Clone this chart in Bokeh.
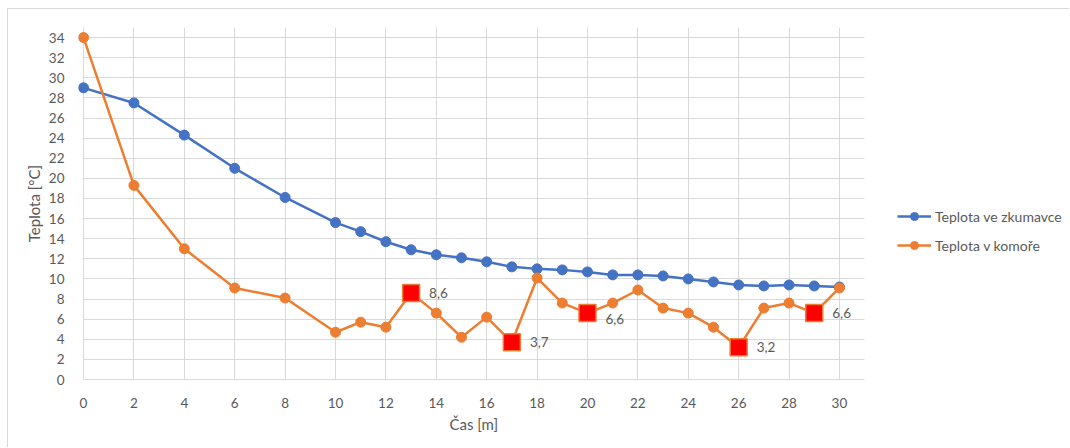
from bokeh.plotting import figure
from bokeh.models import ColumnDataSource, Legend, LegendItem, FixedTicker, Range1d, Title
from bokeh.core.properties import value
from bokeh.embed import file_html
from bokeh.resources import INLINE

# ---- data ----
cas = [0, 2, 4, 6, 8, 10, 11, 12, 13, 14, 15, 16, 17, 18, 19, 20, 21, 22, 23, 24, 25, 26, 27, 28, 29, 30]
zkumavka = [29.0, 27.5, 24.3, 21.0, 18.1, 15.6, 14.7, 13.7, 12.9, 12.4, 12.1, 11.7, 11.2, 11.0, 10.9, 10.7,
            10.4, 10.4, 10.3, 10.0, 9.7, 9.4, 9.3, 9.4, 9.3, 9.2]
komora = [34.0, 19.3, 13.0, 9.1, 8.1, 4.7, 5.7, 5.2, 8.6, 6.6, 4.2, 6.2, 3.7, 10.1, 7.6, 6.6,
          7.6, 8.9, 7.1, 6.6, 5.2, 3.2, 7.1, 7.6, 6.6, 9.1]
highlight_x = [13, 17, 20, 26, 29]
highlight_labels = ["8,6", "3,7", "6,6", "3,2", "6,6"]
x_ticks = list(range(0, 31, 2))
y_ticks = list(range(0, 35, 2))
series_names = ["Teplota ve zkumavce", "Teplota v komoře"]
x_title = "Čas [m]"
y_title = "Teplota [°C]"

BLUE = "#4472C4"
ORANGE = "#ED7D31"
GRID = "#D9D9D9"
TXT = "#595959"
FONT = "Lato"

X_AXIS_MAX = 31
Y_AXIS_MAX = 35

hl_y = [komora[cas.index(x)] for x in highlight_x]
hl_src = ColumnDataSource(dict(
    x=highlight_x, y=hl_y, label=highlight_labels,
    yoff=[0 if x != 20 else 6 for x in highlight_x],
))

# frame spans the whole width to the right so that the legend is not clipped;
# gridlines and the axis line are bounded to the real plot area 0..31
p = figure(width=1062, height=439, output_backend="svg", toolbar_location=None,
           x_range=Range1d(-0.2, 39.17), y_range=Range1d(0, Y_AXIS_MAX),
           min_border_left=70, min_border_right=0, min_border_top=18, min_border_bottom=69)
p.margin = (8, 0, 0, 7)
p.styles = {"border-top": "1px solid #D9D9D9", "border-left": "1px solid #D9D9D9"}
p.outline_line_color = None
p.background_fill_color = "white"
p.border_fill_color = "white"

for ax in (p.xaxis[0], p.yaxis[0]):
    ax.major_tick_line_color = None
    ax.minor_tick_line_color = None
    ax.major_label_text_font = FONT
    ax.major_label_text_font_size = "13.5px"
    ax.major_label_text_color = TXT
    ax.axis_label_text_font = FONT
    ax.axis_label_text_font_size = "15px"
    ax.axis_label_text_color = TXT
    ax.axis_label_text_font_style = "normal"

p.xaxis.ticker = FixedTicker(ticks=x_ticks)
p.yaxis.ticker = FixedTicker(ticks=y_ticks)
p.xaxis.bounds = (0, X_AXIS_MAX)
p.xaxis.axis_line_color = GRID
p.yaxis.axis_line_color = None
p.xaxis.major_label_standoff = 12
p.yaxis.major_label_standoff = 8
p.yaxis.axis_label = y_title
p.yaxis.axis_label_standoff = 3

# x-axis title centred under the 0..31 plot area (not under the wider frame)
xt = Title(text=x_title, align="left", offset=371, standoff=4,
           text_font=FONT, text_font_size="15px", text_color=TXT, text_font_style="normal")
p.add_layout(xt, "below")

p.xgrid.ticker = FixedTicker(ticks=x_ticks)
p.ygrid.ticker = FixedTicker(ticks=y_ticks)
p.xgrid.grid_line_color = GRID
p.ygrid.grid_line_color = GRID
p.ygrid.cross_bounds = (0, X_AXIS_MAX)
p.xgrid.cross_bounds = (0, Y_AXIS_MAX)

l1 = p.line(cas, zkumavka, line_color=BLUE, line_width=2.5)
c1 = p.scatter(cas, zkumavka, size=10, fill_color=BLUE, line_color=BLUE)
l2 = p.line(cas, komora, line_color=ORANGE, line_width=2.5)
c2 = p.scatter(cas, komora, size=10, fill_color=ORANGE, line_color=ORANGE)

# leader line for the label at x=20
lx = [x for x in highlight_x if x == 20]
ly = [komora[cas.index(x)] for x in lx]
p.segment(x0=lx, y0=ly, x1=[x + 0.32 for x in lx], y1=[y - 0.55 for y in ly],
          line_color="#A6A6A6", line_width=1)

p.scatter("x", "y", source=hl_src, marker="square", size=17, fill_color="#FF0000",
          line_color=ORANGE, line_width=1.5)
p.text("x", "y", text="label", source=hl_src, x_offset=18, y_offset="yoff",
       text_font=value(FONT), text_font_size="13.5px", text_color=TXT,
       text_baseline="middle", text_align="left")

legend = Legend(items=[LegendItem(label=series_names[0], renderers=[l1, c1]),
                       LegendItem(label=series_names[1], renderers=[l2, c2])],
                location=(819, 124), orientation="vertical")
legend.label_text_font = FONT
legend.label_text_font_size = "14px"
legend.label_text_color = TXT
legend.glyph_width = 34
legend.glyph_height = 20
legend.label_height = 20
legend.spacing = 9
legend.padding = 0
legend.margin = 0
legend.label_standoff = 4
legend.border_line_color = None
legend.background_fill_alpha = 0
p.add_layout(legend, "center")

open("out.html", "w").write(file_html(p, INLINE))
